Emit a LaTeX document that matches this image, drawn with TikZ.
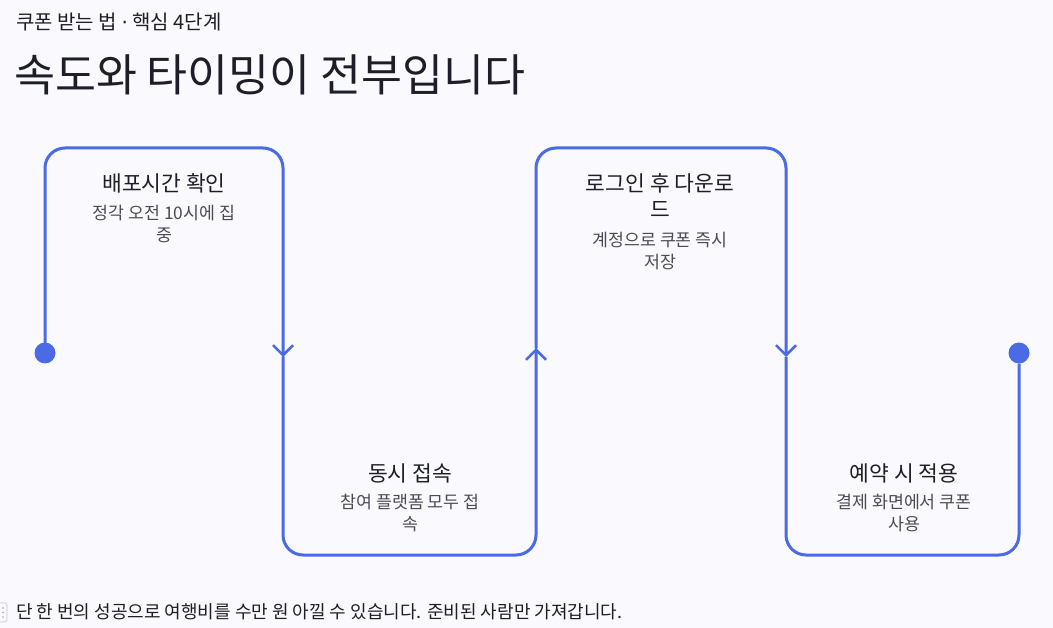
\documentclass[tikz,border=0pt]{standalone}
\usepackage{fontspec}
\setmainfont{Noto Sans CJK KR}
\newfontfamily\dotfont{DejaVu Sans}
\usetikzlibrary{arrows.meta,positioning}

\definecolor{flowblue}{HTML}{4A6BE3}
\definecolor{inkdark}{HTML}{1E1E28}
\definecolor{inkgray}{HTML}{4B4B57}
\definecolor{paper}{HTML}{F9F9FE}

\begin{document}
\begin{tikzpicture}[x=1pt,y=-1pt,
	flow/.style={draw=flowblue, line width=3pt, rounded corners=20pt, line cap=round,
	             -{Straight Barb[length=10pt,width=20pt,line width=2.5pt]}},
	flowend/.style={draw=flowblue, line width=3pt, rounded corners=20pt},
	dot/.style={circle, fill=flowblue, minimum size=21pt, inner sep=0pt},
	steptitle/.style={font=\fontsize{21.5}{26}\selectfont, text=inkdark, align=center, inner sep=0pt},
	stepnote/.style={font=\fontsize{17.3}{22}\selectfont, text=inkgray, align=center, inner sep=0pt}]

	% background and page size
	\fill[paper] (0,0) rectangle (1053,628);
	\useasboundingbox (0,0) rectangle (1053,628);

	% heading
	\node[anchor=west, inner sep=0pt, text=inkdark, font=\fontsize{20}{24}\selectfont] (kicker) at (16,22) {쿠폰 받는 법 {\dotfont·} 핵심 4단계};
	\node[anchor=west, inner sep=0pt, text=inkdark, font=\fontsize{44.5}{50}\selectfont] (headline) at (14,75) {속도와 타이밍이 전부입니다};

	% path points
	\node[dot] (start) at (45,353) {};
	\node[dot] (finish) at (1019,353) {};
	\coordinate (c1) at (45,148);
	\coordinate (c2) at (283,148);
	\coordinate (a1) at (283,357);
	\coordinate (c3) at (283,555);
	\coordinate (c4) at (536,555);
	\coordinate (a2) at (536,348);
	\coordinate (c5) at (536,148);
	\coordinate (c6) at (786,148);
	\coordinate (a3) at (786,357);
	\coordinate (c7) at (786,555);
	\coordinate (c8) at (1019,555);

	% the winding line, arrow at the middle of each drop
	\draw[flow] (start) -- (c1) -- (c2) -- (a1);
	\draw[flow] (a1) -- (c3) -- (c4) -- (a2);
	\draw[flow] (a2) -- (c5) -- (c6) -- (a3);
	\draw[flowend] (a3) -- (c7) -- (c8) -- (finish);

	% step texts
	\node[steptitle] (t1) at (164,183) {배포시간 확인};
	\node[stepnote] (n1) at (164,224) {정각 오전 10시에 집\\중};
	\node[steptitle] (t2) at (410,473) {동시 접속};
	\node[stepnote] (n2) at (410,513) {참여 플랫폼 모두 접\\속};
	\node[steptitle] (t3) at (660,196) {로그인 후 다운로\\드};
	\node[stepnote] (n3) at (660,251) {계정으로 쿠폰 즉시\\저장};
	\node[steptitle] (t4) at (904,473) {예약 시 적용};
	\node[stepnote] (n4) at (904,513) {결제 화면에서 쿠폰\\사용};

	% footer
	\draw[gray!45, line width=0.6pt, rounded corners=2pt] (-6,603) rectangle (7,622);
	\foreach \yy in {608,612.5,617} \fill[gray!70] (3,\yy) circle (0.8pt);
	\node[anchor=west, inner sep=0pt, text=inkdark, font=\fontsize{18}{22}\selectfont] (footer) at (16,612) {단 한 번의 성공으로 여행비를 수만 원 아낄 수 있습니다. 준비된 사람만 가져갑니다.};
\end{tikzpicture}
\end{document}
